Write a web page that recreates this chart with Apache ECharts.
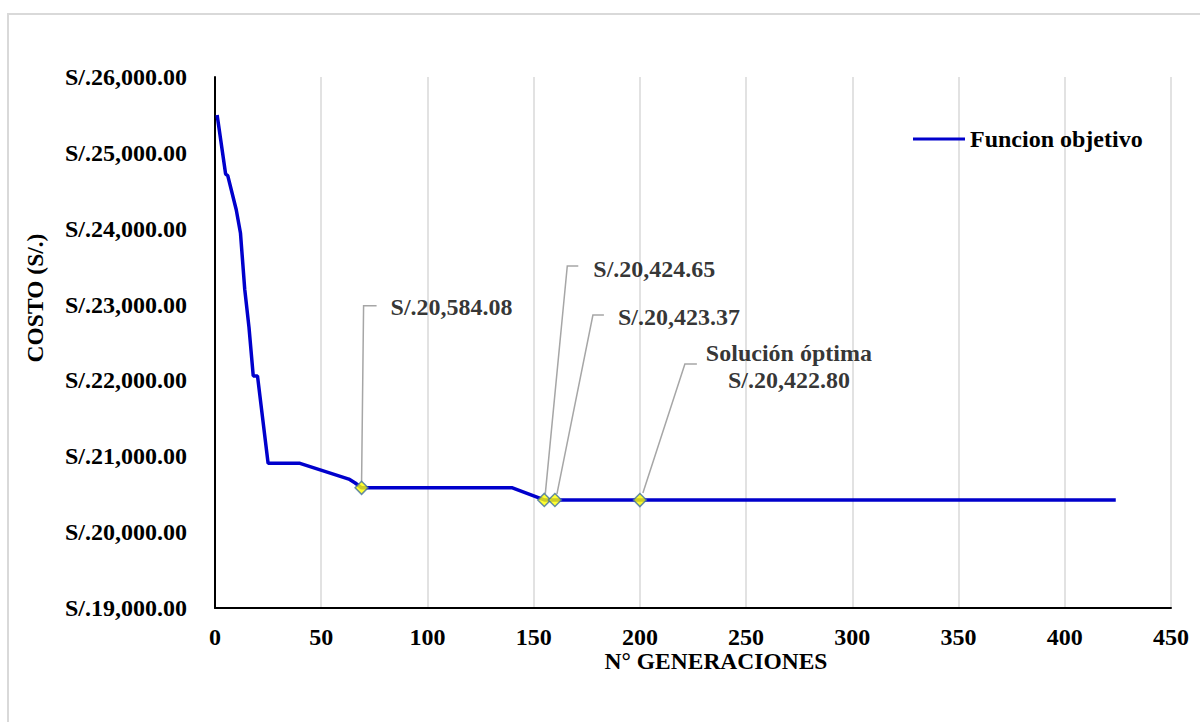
<!DOCTYPE html>
<html>
<head>
<meta charset="utf-8">
<script src="https://cdn.jsdelivr.net/npm/echarts@6/dist/echarts.min.js"></script>
<style>
  html, body { margin: 0; padding: 0; background: #ffffff; }
  #chart { width: 1200px; height: 722px; }
</style>
</head>
<body>
<div id="chart"></div>
<script>
// ---- Data ----
const SERIES_NAME = 'Funcion objetivo';
const GENERATIONS = [1, 5, 6, 10, 12, 14, 16, 18, 20, 25, 40, 63, 66, 69, 140, 155, 160, 200, 424];
const COSTS = [25500, 24720, 24700, 24250, 23940, 23200, 22700, 22060, 22060, 20907, 20907, 20700, 20648, 20584.08, 20584.08, 20424.65, 20423.37, 20422.80, 20422.80];

const ANNOT_GEN = [69, 155, 160, 200];
const ANNOT_COST = [20584.08, 20424.65, 20423.37, 20422.80];
const ANNOT_TEXT = ['S/.20,584.08', 'S/.20,424.65', 'S/.20,423.37', 'Solución óptima\nS/.20,422.80'];

const X_TICKS = [0, 50, 100, 150, 200, 250, 300, 350, 400, 450];
const Y_TICKS = [19000, 20000, 21000, 22000, 23000, 24000, 25000, 26000];
const Y_TICK_LABELS = ['S/.19,000.00', 'S/.20,000.00', 'S/.21,000.00', 'S/.22,000.00', 'S/.23,000.00', 'S/.24,000.00', 'S/.25,000.00', 'S/.26,000.00'];

const X_TITLE = 'N° GENERACIONES';
const Y_TITLE = 'COSTO (S/.)';

// ---- Layout / style (pixel offsets of annotations relative to their marker) ----
const LABEL_POS = [[29, -181, 'left'], [49, -231, 'left'], [63, -183, 'left'], [149, -134, 'center']];
const LEADER_OFFSETS = [
  [[0, -6], [2, -182], [15, -182]],
  [[1, -6], [23, -234], [34, -234]],
  [[2, -6], [38, -185], [49, -185]],
  [[3, -7], [45, -136], [57, -136]]
];
const FONT = 'Liberation Serif';

const chart = echarts.init(document.getElementById('chart'), null, { renderer: 'svg' });

const option = {
  backgroundColor: '#ffffff',
  animation: false,
  grid: { left: 215, right: 29, top: 77, bottom: 114, containLabel: false },
  legend: {
    data: [SERIES_NAME],
    left: 908, top: 122,
    icon: 'rect', itemWidth: 52, itemHeight: 3, itemGap: 10,
    textStyle: { fontFamily: FONT, fontWeight: 'bold', fontSize: 24, color: '#000' }
  },
  xAxis: {
    type: 'value', min: X_TICKS[0], max: X_TICKS[X_TICKS.length - 1], interval: 50,
    axisLine: { show: true, lineStyle: { color: '#000', width: 2 } },
    axisTick: { show: false },
    axisLabel: { margin: 17, fontFamily: FONT, fontWeight: 'bold', fontSize: 24, color: '#000' },
    splitLine: { show: true, lineStyle: { color: '#d9d9d9', width: 1.5 } }
  },
  yAxis: {
    type: 'value', min: Y_TICKS[0], max: Y_TICKS[Y_TICKS.length - 1], interval: 1000,
    axisLine: { show: true, lineStyle: { color: '#000', width: 2 } },
    axisTick: { show: false },
    axisLabel: {
      margin: 28, fontFamily: FONT, fontWeight: 'bold', fontSize: 24, color: '#000',
      formatter: function (v) { const i = Y_TICKS.indexOf(v); return i >= 0 ? Y_TICK_LABELS[i] : ''; }
    },
    splitLine: { show: false }
  },
  series: [
    {
      name: SERIES_NAME, type: 'line',
      data: GENERATIONS.map((g, i) => [g, COSTS[i]]),
      showSymbol: false, symbol: 'none',
      lineStyle: { color: '#0000CC', width: 3.5 },
      itemStyle: { color: '#0000CC' },
      z: 2
    },
    {
      name: 'annotations', type: 'scatter',
      data: ANNOT_GEN.map((g, i) => [g, ANNOT_COST[i]]),
      symbol: 'diamond', symbolSize: 13,
      itemStyle: { color: '#FFFF00', borderColor: '#41719C', borderWidth: 1.5 },
      z: 5,
      label: {
        show: true,
        formatter: function (p) { return ANNOT_TEXT[p.dataIndex]; },
        fontFamily: FONT, fontWeight: 'bold', fontSize: 24, color: '#000', lineHeight: 27
      },
      labelLayout: function (params) {
        const r = params.rect;
        const cx = r.x + r.width / 2, cy = r.y + r.height / 2;
        const o = LABEL_POS[params.dataIndex];
        return { x: cx + o[0], y: cy + o[1], align: o[2], verticalAlign: 'middle' };
      }
    }
  ]
};

chart.setOption(option);

function addGraphics() {
  const leaders = ANNOT_GEN.map(function (g, i) {
    const p = chart.convertToPixel({ gridIndex: 0 }, [g, ANNOT_COST[i]]);
    const pts = LEADER_OFFSETS[i].map(function (o) { return [p[0] + o[0], p[1] + o[1]]; });
    return {
      type: 'polyline', id: 'leader' + i, z: 4,
      shape: { points: pts },
      style: { stroke: '#a6a6a6', lineWidth: 1.5, fill: null }
    };
  });
  chart.setOption({
    graphic: [
      {
        type: 'rect', id: 'frame', z: -1, silent: true,
        shape: { x: 8, y: 14, width: 1300, height: 800 },
        style: { fill: null, stroke: '#d9d9d9', lineWidth: 2 }
      },
      {
        type: 'text', id: 'ytitle', rotation: Math.PI / 2,
        x: 35, y: 298,
        style: { text: Y_TITLE, fontFamily: FONT, fontWeight: 'bold', fontSize: 23.5, fill: '#000', align: 'center', verticalAlign: 'middle' }
      },
      {
        type: 'text', id: 'xtitle',
        x: 716, y: 661,
        style: { text: X_TITLE, fontFamily: FONT, fontWeight: 'bold', fontSize: 23.5, fill: '#000', align: 'center', verticalAlign: 'middle' }
      }
    ].concat(leaders)
  });
}
addGraphics();
</script>
</body>
</html>
